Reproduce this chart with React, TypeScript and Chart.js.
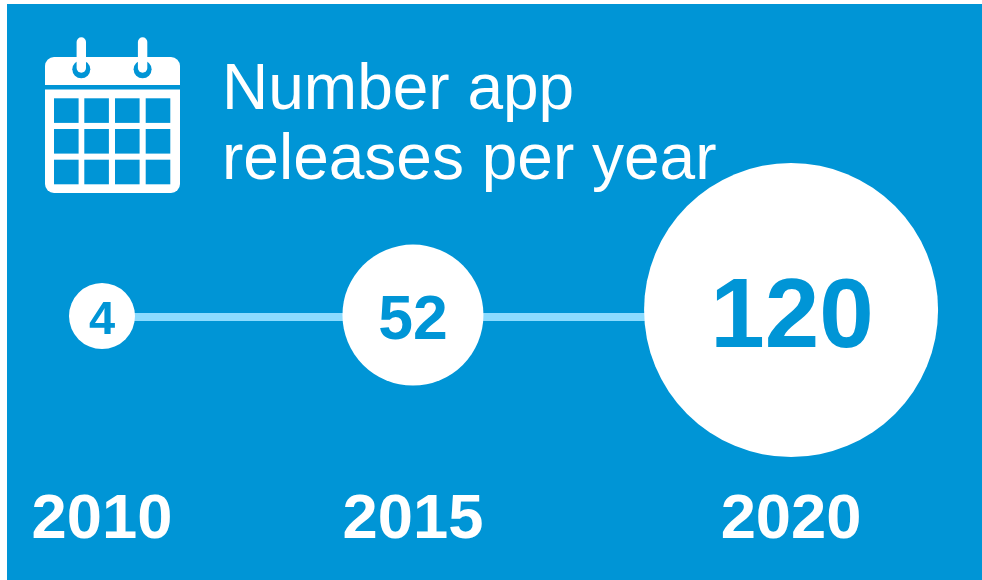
import React, { useEffect, useRef } from "react";
import { Chart, registerables } from "chart.js";

Chart.register(...registerables);

const years = ["2010", "2015", "2020"];
const releases = [4, 52, 120];
// The reference spaces its three years unevenly, so each has its own axis slot.
const axisSlots = [2010, 2015, 2021.08];
const bubbleRadii = [33, 70.5, 147];
const bubbleLevels = [33.33, 33.54, 34.6];
const lineLevel = 33.15;
const titleLines = ["Number app", "releases per year"];

const BLUE = "#0095D6";
const LINE = "#8CDBFF";
const FONT = '"Liberation Sans", Arial, sans-serif';
const labelSizes = [47, 62.5, 98];
const labelOffsets = [18, 24, 37];

const valueLabels = {
  id: "valueLabels",
  afterDatasetsDraw(chart: any) {
    const { ctx } = chart;
    const meta = chart.getDatasetMeta(1);
    ctx.save();
    ctx.fillStyle = BLUE;
    ctx.textAlign = "center";
    ctx.textBaseline = "alphabetic";
    meta.data.forEach((el: any, i: number) => {
      ctx.font = `bold ${labelSizes[i]}px ${FONT}`;
      ctx.fillText(String(releases[i]), el.x + (i === 2 ? 1 : 0), el.y + labelOffsets[i]);
    });
    ctx.restore();
  },
};

function CalendarIcon() {
  const cellX = [54, 84.3, 115, 145.7];
  const cellY = [98.3, 129, 159.7];
  const pinX = [81.3, 142.6];
  return (
    <svg width={982} height={580} style={{ position: "absolute", left: 0, top: 0 }}>
      <path d="M45 85V66a9 9 0 0 1 9-9H171a9 9 0 0 1 9 9V85Z" fill="#fff" />
      <path d="M45 89.5H180V184a9 9 0 0 1-9 9H54a9 9 0 0 1-9-9Z" fill="#fff" />
      {cellY.map((y) =>
        cellX.map((x) => (
          <rect key={`${x}-${y}`} x={x} y={y} width={24.6} height={24.6} fill={BLUE} />
        ))
      )}
      {pinX.map((x) => (
        <g key={x}>
          <circle cx={x} cy={69.3} r={9} fill={BLUE} />
          <rect x={x - 4.7} y={37.3} width={9.4} height={35.4} rx={4.7} fill="#fff" />
        </g>
      ))}
    </svg>
  );
}

export default function App() {
  const ref = useRef<HTMLCanvasElement>(null);

  useEffect(() => {
    const chart = new Chart(ref.current as HTMLCanvasElement, {
      type: "bubble",
      data: {
        datasets: [
          {
            type: "line",
            data: axisSlots.map((x) => ({ x, y: lineLevel })),
            borderColor: LINE,
            borderWidth: 8,
            pointRadius: 0,
            order: 2,
            clip: false,
          },
          {
            type: "bubble",
            data: axisSlots.map((x, i) => ({ x, y: bubbleLevels[i], r: bubbleRadii[i] })),
            backgroundColor: "#ffffff",
            borderWidth: 0,
            hoverRadius: 0,
            order: 1,
            clip: false,
          },
        ],
      } as any,
      options: {
        responsive: false,
        animation: false,
        layout: { autoPadding: false, padding: { left: 0, right: 0, top: 0, bottom: 12 } },
        plugins: {
          legend: { display: false },
          tooltip: { enabled: false },
          title: { display: false },
        },
        scales: {
          x: {
            type: "linear",
            min: 2008.36,
            max: 2024.15,
            grid: { display: false, drawTicks: false },
            border: { display: false },
            afterBuildTicks: (axis: any) => {
              axis.ticks = axisSlots.map((value) => ({ value }));
            },
            ticks: {
              autoSkip: false,
              maxRotation: 0,
              padding: 9,
              color: "#ffffff",
              font: { family: FONT, size: 63.3, weight: "bold" },
              callback: (value: any) => years[axisSlots.indexOf(Number(value))] ?? "",
            },
          },
          y: { type: "linear", display: false, min: 0, max: 100 },
        },
      } as any,
      plugins: [valueLabels],
    });
    return () => chart.destroy();
  }, []);

  return (
    <div style={{ position: "absolute", left: 0, top: 0, width: 982, height: 580, background: "#fff", overflow: "hidden" }}>
      <div style={{ position: "absolute", left: 7, top: 4, width: 975, height: 576, background: BLUE }} />
      <canvas ref={ref} width={982} height={580} style={{ position: "absolute", left: 0, top: 0 }} />
      <CalendarIcon />
      <div
        style={{
          position: "absolute",
          left: 222,
          top: 53,
          color: "#fff",
          font: `64px/69.5px ${FONT}`,
          whiteSpace: "nowrap",
        }}
      >
        {titleLines.map((t) => (
          <div key={t}>{t}</div>
        ))}
      </div>
    </div>
  );
}
